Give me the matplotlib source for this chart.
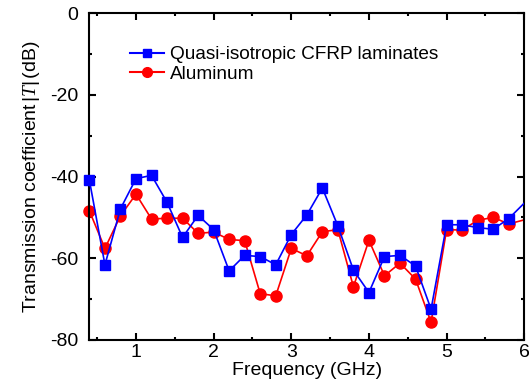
import numpy as np
import matplotlib
matplotlib.use("Agg")
import matplotlib.pyplot as plt
from matplotlib.lines import Line2D

plt.rcParams['font.family'] = ['Liberation Sans', 'DejaVu Sans']
plt.rcParams['mathtext.fontset'] = 'custom'
plt.rcParams['mathtext.it'] = 'Liberation Serif:italic'
plt.rcParams['mathtext.rm'] = 'Liberation Sans'
plt.rcParams['axes.unicode_minus'] = False

# frequency points (GHz), last one lies past the axis end and gets clipped
freq = [0.4, 0.6, 0.8, 1.0, 1.2, 1.4, 1.6, 1.8, 2.0, 2.2, 2.4, 2.6, 2.8, 3.0,
        3.2, 3.4, 3.6, 3.8, 4.0, 4.2, 4.4, 4.6, 4.8, 5.0, 5.2, 5.4, 5.6, 5.8, 6.2]

cfrp = [-40.9, -61.6, -47.9, -40.5, -39.7, -46.3, -54.9, -49.5, -53.0, -63.1,
        -59.3, -59.6, -61.6, -54.2, -49.4, -42.8, -52.1, -62.9, -68.4, -59.6,
        -59.3, -61.9, -72.5, -51.8, -51.8, -52.5, -52.9, -50.3, -42.7]

alu = [-48.4, -57.6, -49.6, -44.3, -50.4, -50.2, -50.2, -53.9, -53.6, -55.4,
       -55.7, -68.7, -69.2, -57.6, -59.4, -53.5, -53.0, -67.0, -55.6, -64.3,
       -61.2, -65.1, -75.7, -53.0, -53.1, -50.7, -50.0, -51.6, -49.6]

labels = ['Quasi-isotropic CFRP laminates', 'Aluminum']

fig = plt.figure(figsize=(5.29, 3.92), dpi=100)
ax = fig.add_axes([0.169, 0.133, 0.822, 0.833])

f = np.array(freq)
inside = f <= 6.0

# red first, blue on top
ax.plot(f, alu, color='#ff0000', lw=1.2, zorder=2)
ax.plot(f[inside], np.array(alu)[inside], 'o', color='#ff0000', ms=8,
        ls='none', clip_on=False, zorder=2)
ax.plot(f, cfrp, color='#0000ff', lw=1.2, zorder=3)
ax.plot(f[inside], np.array(cfrp)[inside], 's', color='#0000ff', ms=7,
        ls='none', clip_on=False, zorder=3)

ax.set_xlim(0.4, 6)
ax.set_ylim(-80, 0)
ax.set_xticks([1, 2, 3, 4, 5, 6])
ax.set_xticks(np.arange(0.5, 6.01, 0.5), minor=True)
ax.set_yticks([-80, -60, -40, -20, 0])
ax.set_yticks(np.arange(-80, 1, 10), minor=True)

for s in ax.spines.values():
    s.set_linewidth(1.5)
ax.tick_params(which='both', direction='in', top=True, right=True,
               labelsize=14, width=1.5)
ax.tick_params(which='major', length=5)
ax.tick_params(which='minor', length=2.2)
ax.tick_params(axis='x', pad=3)
ax.tick_params(axis='y', pad=8)

ax.set_xlabel('Frequency (GHz)', fontsize=14, labelpad=1)
ax.set_ylabel(r'Transmission coefficient$\,|\mathit{T}|\,$(dB)', fontsize=14,
              labelpad=6)

handles = [Line2D([], [], color='#0000ff', lw=1.5, marker='s', ms=6),
           Line2D([], [], color='#ff0000', lw=1.5, marker='o', ms=7)]
ax.legend(handles, labels, loc='upper left', bbox_to_anchor=(0.093, 0.9),
          frameon=False, fontsize=13.7, handlelength=1.8, handletextpad=0.3,
          labelspacing=0.1, borderpad=0, borderaxespad=0)

fig.savefig('out.png', dpi=100)
